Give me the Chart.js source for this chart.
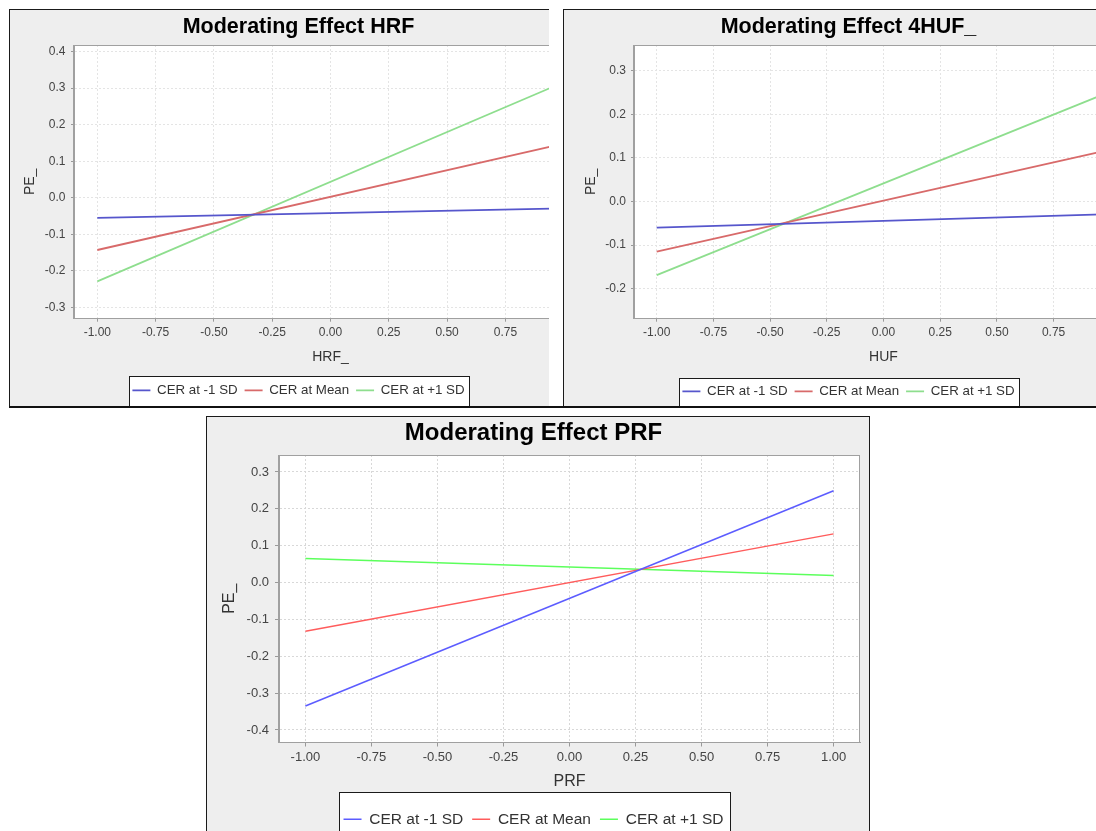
<!DOCTYPE html>
<html>
<head>
<meta charset="utf-8">
<script src="https://cdn.jsdelivr.net/npm/chart.js@4.4.1/dist/chart.umd.min.js"></script>
<style>
html, body { margin: 0; padding: 0; background: #ffffff; }
body { width: 1096px; height: 831px; position: relative; overflow: hidden; }
.panel { position: absolute; overflow: hidden; background: #eeeeee; border: 0 solid #1a1a1a; box-sizing: content-box; }
.panel canvas { position: absolute; left: 0; top: 0; }
.rule { position: absolute; background: #111111; }
</style>
</head>
<body>
<div class="panel" style="left:9px;top:9px;width:539px;height:397px;border-left-width:1px;border-top-width:1px;">
  <canvas id="cHRF" width="582" height="397" style="width:582px;height:397px;"></canvas>
</div>
<div class="panel" style="left:563px;top:9px;width:532px;height:397px;border-left-width:1px;border-top-width:1px;">
  <canvas id="cHUF" width="577" height="398" style="width:577px;height:398px;"></canvas>
</div>
<div class="rule" style="left:9px;top:406px;width:1087px;height:2px;"></div>
<div class="panel" style="left:206px;top:416px;width:662px;height:415px;border-left-width:1px;border-top-width:1px;border-right-width:1px;">
  <canvas id="cPRF" width="662" height="420" style="width:662px;height:420px;"></canvas>
</div>
<script>
// ---------------- data ----------------
const xPoints = [-1, 1];
const xTickValues = [-1, -0.75, -0.5, -0.25, 0, 0.25, 0.5, 0.75, 1];
const seriesNames = ['CER at -1 SD', 'CER at Mean', 'CER at +1 SD'];

const hrfLow  = [-0.055, -0.029];
const hrfMean = [-0.143,  0.148];
const hrfHigh = [-0.229,  0.316];

const hufLow  = [-0.060, -0.029];
const hufMean = [-0.115,  0.119];
const hufHigh = [-0.169,  0.252];

const prfLow  = [-0.335,  0.249];
const prfMean = [-0.132,  0.132];
const prfHigh = [ 0.065,  0.019];

const yTicksHRF = [-0.3, -0.2, -0.1, 0, 0.1, 0.2, 0.3, 0.4];
const yTicksHUF = [-0.2, -0.1, 0, 0.1, 0.2, 0.3];
const yTicksPRF = [-0.4, -0.3, -0.2, -0.1, 0, 0.1, 0.2, 0.3];

const chartTitles = ['Moderating Effect HRF', 'Moderating Effect 4HUF_', 'Moderating Effect PRF'];
const xAxisTitles = ['HRF_', 'HUF', 'PRF'];
const yAxisTitle = 'PE_';

// ---------------- helpers ----------------
const FONT = "'Liberation Sans', Arial, Helvetica, sans-serif";

function pts(ys) { return xPoints.map((x, i) => ({ x: x, y: ys[i] })); }

function legendRect(chart, o) {
  const lg = chart.legend;
  const pad = lg.options.labels.padding;
  const lineW = lg.lineWidths[0];
  const startX = (lg.left + pad + lg.right - lineW) / 2;
  const endX = startX + lineW - pad;
  return { x: Math.round(startX - o.legendPadL), y: o.legendTop, w: Math.round(endX + o.legendPadR - startX + o.legendPadL), h: 300 };
}

const framePlugin = {
  id: 'frame',
  beforeDraw(chart, args, o) {
    const { ctx, chartArea: a } = chart;
    ctx.save();
    ctx.fillStyle = '#ffffff';
    ctx.fillRect(a.left, a.top, a.right - a.left, a.bottom - a.top);
    const r = legendRect(chart, o);
    ctx.fillRect(r.x, r.y, r.w, r.h);
    ctx.restore();
  },
  afterDraw(chart, args, o) {
    const { ctx, chartArea: a } = chart;
    ctx.save();
    ctx.strokeStyle = o.outline;
    ctx.lineWidth = 1;
    ctx.strokeRect(Math.round(a.left) - 0.5, Math.round(a.top) + 0.5, Math.round(a.right - a.left), Math.round(a.bottom - a.top) - 1);
    const r = legendRect(chart, o);
    ctx.strokeStyle = '#1a1a1a';
    ctx.strokeRect(r.x + 0.5, r.y + 0.5, r.w, r.h);
    ctx.restore();
  }
};

function makeChart(id, s) {
  const datasets = s.series.map((ys, i) => ({
    label: seriesNames[i],
    data: pts(ys),
    borderColor: s.colors[i],
    backgroundColor: s.colors[i],
    borderWidth: s.lineWidth,
    pointRadius: 0,
    pointHoverRadius: 0,
    fill: false,
    tension: 0
  }));
  return new Chart(document.getElementById(id), {
    type: 'line',
    data: { datasets: datasets },
    plugins: [framePlugin],
    options: {
      responsive: false,
      animation: false,
      events: [],
      layout: { autoPadding: false, padding: { left: 0, right: s.padRight, top: 0, bottom: 0 } },
      plugins: {
        frame: { outline: '#a0a0a0', legendPadL: s.legendPadL, legendPadR: s.legendPadR, legendTop: s.legendTop },
        title: {
          display: true, text: s.title, color: '#000000',
          font: { family: FONT, size: s.titleSize, weight: 'bold', lineHeight: 1.2 },
          padding: { top: s.titlePadTop, bottom: s.titlePadBottom }
        },
        legend: {
          display: true, position: 'bottom', align: 'center',
          labels: {
            usePointStyle: true, pointStyle: 'line', pointStyleWidth: 18,
            padding: s.legendPad, color: '#333333',
            font: { family: FONT, size: s.legendSize }
          }
        },
        tooltip: { enabled: false }
      },
      scales: {
        x: {
          type: 'linear', min: -1.1, max: 1.1,
          afterBuildTicks: (sc) => { sc.ticks = xTickValues.map(v => ({ value: v })); },
          afterFit: (sc) => { sc.height = s.xAxisHeight; },
          ticks: {
            callback: (v) => Number(v).toFixed(2),
            color: '#444444', font: { family: FONT, size: s.tickSize },
            padding: s.xTickPad, maxRotation: 0, minRotation: 0, autoSkip: false
          },
          grid: { color: s.gridColor, lineWidth: 1, drawTicks: true, tickLength: s.tickLen, tickColor: '#999999', tickBorderDash: [] },
          border: { display: true, color: '#a0a0a0', width: 1, dash: [2, 2] },
          title: {
            display: true, text: s.xTitle, color: '#333333',
            font: { family: FONT, size: s.axisTitleSize, lineHeight: 1.2 },
            padding: { top: 0, bottom: s.xTitlePadBottom }
          }
        },
        y: {
          type: 'linear', min: s.yMin, max: s.yMax,
          afterBuildTicks: (sc) => { sc.ticks = s.yTicks.map(v => ({ value: v })); },
          afterFit: (sc) => { sc.width = s.yAxisWidth; },
          ticks: {
            callback: (v) => Number(v).toFixed(1),
            color: '#444444', font: { family: FONT, size: s.tickSize },
            padding: s.yTickPad, autoSkip: false
          },
          grid: { color: s.gridColor, lineWidth: 1, drawTicks: true, tickLength: s.tickLen, tickColor: '#999999', tickBorderDash: [] },
          border: { display: true, color: '#a0a0a0', width: 1, dash: [2, 2] },
          title: {
            display: true, text: yAxisTitle, color: '#333333',
            font: { family: FONT, size: s.axisTitleSize, lineHeight: 1.2 },
            padding: { top: s.yTitlePadTop, bottom: 0 }
          }
        }
      }
    }
  });
}

const topColors = ['#5656cc', '#d86a6a', '#8ede8e'];
const bottomColors = ['#5c5cff', '#ff5c5c', '#5cff5c'];

makeChart('cHRF', {
  title: chartTitles[0], xTitle: xAxisTitles[0],
  series: [hrfLow, hrfMean, hrfHigh], colors: topColors, lineWidth: 1.8,
  yMin: -0.331, yMax: 0.418, yTicks: yTicksHRF,
  padRight: 5, titleSize: 21.5, titlePadTop: 4, titlePadBottom: 5.2,
  yAxisWidth: 64, xAxisHeight: 58, tickSize: 12, tickLen: 3, xTickPad: 3.8, yTickPad: 5.5,
  axisTitleSize: 14, xTitlePadBottom: 11.6, yTitlePadTop: 11.6,
  legendSize: 13.3, legendPad: 7, legendPadL: 3, legendPadR: 5, legendTop: 366,
  gridColor: '#e4e4e4'
});

makeChart('cHUF', {
  title: chartTitles[1], xTitle: xAxisTitles[1],
  series: [hufLow, hufMean, hufHigh], colors: topColors, lineWidth: 1.8,
  yMin: -0.269, yMax: 0.359, yTicks: yTicksHUF,
  padRight: 8, titleSize: 21.5, titlePadTop: 4, titlePadBottom: 5.2,
  yAxisWidth: 70, xAxisHeight: 59, tickSize: 12, tickLen: 3, xTickPad: 3.8, yTickPad: 5,
  axisTitleSize: 14, xTitlePadBottom: 12.6, yTitlePadTop: 18.6,
  legendSize: 13.3, legendPad: 7, legendPadL: 3, legendPadR: 5, legendTop: 368,
  gridColor: '#e4e4e4'
});

makeChart('cPRF', {
  title: chartTitles[2], xTitle: xAxisTitles[2],
  series: [prfLow, prfMean, prfHigh], colors: bottomColors, lineWidth: 1.5,
  yMin: -0.434, yMax: 0.346, yTicks: yTicksPRF,
  padRight: 9, titleSize: 24, titlePadTop: 2.1, titlePadBottom: 7.1,
  yAxisWidth: 72, xAxisHeight: 60, tickSize: 13, tickLen: 4, xTickPad: 3.2, yTickPad: 6,
  axisTitleSize: 16, xTitlePadBottom: 11.4, yTitlePadTop: 13.4,
  legendSize: 15.5, legendPad: 9, legendPadL: 5, legendPadR: 6, legendTop: 375,
  gridColor: '#d8d8d8'
});
</script>
</body>
</html>
